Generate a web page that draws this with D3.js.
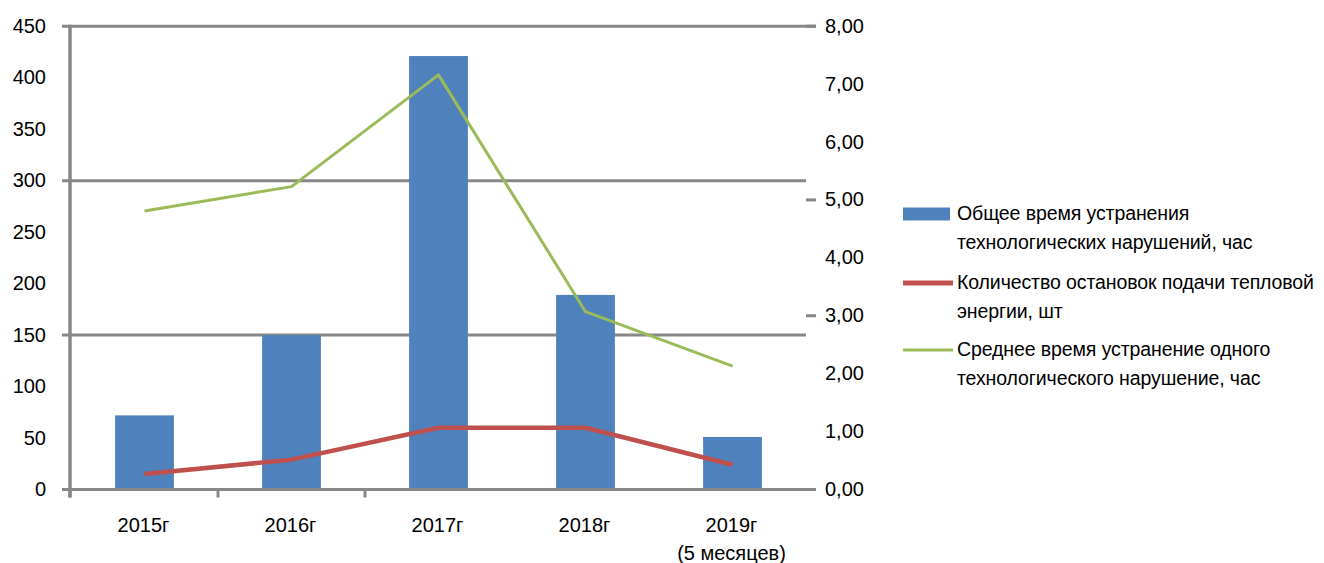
<!DOCTYPE html>
<html>
<head>
<meta charset="utf-8">
<script src="https://cdn.jsdelivr.net/npm/d3@7"></script>
<style>
  html, body { margin: 0; padding: 0; background: #fff; }
  svg { display: block; font-family: "Liberation Sans", Arial, sans-serif; }
</style>
</head>
<body>
<svg id="chart" width="1324" height="563"></svg>
<script>
// Years (the last one covers only five months)
const categories = ["2015г", "2016г", "2017г", "2018г", "2019г"];
const categoryLines = [["2015г"], ["2016г"], ["2017г"], ["2018г"], ["2019г", "(5 месяцев)"]];

// Total time to eliminate technological violations, hours (left axis, bars)
const totalHours = [72, 150, 421, 189, 51];
// Number of heat supply stoppages, pcs (left axis, red line)
const stopCount = [15, 29, 60, 60, 24];
// Average time to eliminate one violation, hours (right axis, green line)
const avgHours = [4.81, 5.23, 7.16, 3.07, 2.13];

// Axis ticks
const leftTickLabels = [0, 50, 100, 150, 200, 250, 300, 350, 400, 450];
const leftGridValues = [0, 150, 300, 450];
const rightTickLabels = [0, 1, 2, 3, 4, 5, 6, 7, 8];
const rightTickMarks = [0, 3, 5, 8];
const xTickMarkIndex = [0, 1, 2];

const seriesNames = [
  ["Общее время устранения", "технологических нарушений, час"],
  ["Количество остановок подачи тепловой", "энергии, шт"],
  ["Среднее время устранение одного", "технологического нарушение, час"]
];

const colors = { bar: "#4F81BD", red: "#C0504D", green: "#9BBB59", grid: "#878787" };

const svg = d3.select("#chart");
const plot = { left: 71, right: 806, top: 26.2, bottom: 489.5 };

const x = d3.scaleBand()
  .domain(categories)
  .range([plot.left, plot.right])
  .paddingInner(0.6)
  .paddingOuter(0.3);
const step = x.step();
const cx = c => x(c) + x.bandwidth() / 2;

const yL = d3.scaleLinear().domain([0, 450]).range([plot.bottom, plot.top]);
const yR = d3.scaleLinear().domain([0, 8]).range([plot.bottom, plot.top]);

// Horizontal grid lines with their left tick stubs
svg.append("g")
  .selectAll("line")
  .data(leftGridValues)
  .join("line")
  .attr("x1", plot.left - 9)
  .attr("x2", d => d === 450 ? plot.right + 10 : plot.right)
  .attr("y1", d => yL(d))
  .attr("y2", d => yL(d))
  .attr("stroke", colors.grid)
  .attr("stroke-width", 3);

// Right axis tick marks
svg.append("g")
  .selectAll("line")
  .data(rightTickMarks)
  .join("line")
  .attr("x1", plot.right)
  .attr("x2", plot.right + 10)
  .attr("y1", d => yR(d))
  .attr("y2", d => yR(d))
  .attr("stroke", colors.grid)
  .attr("stroke-width", 3);

// Bars
svg.append("g")
  .selectAll("rect")
  .data(totalHours)
  .join("rect")
  .attr("x", (d, i) => x(categories[i]))
  .attr("width", x.bandwidth())
  .attr("y", d => yL(d))
  .attr("height", d => yL(0) - yL(d))
  .attr("fill", colors.bar);

// Category axis line and tick marks
svg.append("line")
  .attr("x1", plot.left - 9).attr("x2", plot.right + 10)
  .attr("y1", plot.bottom).attr("y2", plot.bottom)
  .attr("stroke", colors.grid).attr("stroke-width", 3);
svg.append("g")
  .selectAll("line")
  .data(xTickMarkIndex)
  .join("line")
  .attr("x1", i => plot.left + i * step + (i === 0 ? -1 : 0))
  .attr("x2", i => plot.left + i * step + (i === 0 ? -1 : 0))
  .attr("y1", plot.bottom)
  .attr("y2", plot.bottom + 8)
  .attr("stroke", colors.grid)
  .attr("stroke-width", 3);

// Value axis line
svg.append("line")
  .attr("x1", plot.left - 1).attr("x2", plot.left - 1)
  .attr("y1", plot.top - 1.5).attr("y2", plot.bottom + 8)
  .attr("stroke", colors.grid).attr("stroke-width", 3.5);

// Left axis labels
const leftAxis = d3.axisLeft(yL).tickValues(leftTickLabels).tickSize(0).tickPadding(0)
  .tickFormat(d3.format("d"));
const gl = svg.append("g").attr("transform", `translate(46,0)`).call(leftAxis);
gl.select(".domain").remove();
gl.selectAll("text").attr("font-size", 20).attr("fill", "#000")
  .attr("font-family", "Liberation Sans, Arial, sans-serif").attr("dy", "0.3em");

// Right axis labels with decimal comma
const commaFmt = d => d3.format(".2f")(d).replace(".", ",");
const rightAxis = d3.axisRight(yR).tickValues(rightTickLabels).tickSize(0).tickPadding(0)
  .tickFormat(commaFmt);
const gr = svg.append("g").attr("transform", `translate(825,0)`).call(rightAxis);
gr.select(".domain").remove();
gr.selectAll("text").attr("font-size", 20).attr("fill", "#000")
  .attr("font-family", "Liberation Sans, Arial, sans-serif").attr("dy", "0.3em");

// Category labels
svg.append("g")
  .selectAll("text")
  .data(categoryLines)
  .join("text")
  .attr("x", (d, i) => cx(categories[i]) - 1)
  .attr("y", 532)
  .attr("text-anchor", "middle")
  .attr("font-size", 20)
  .attr("fill", "#000")
  .selectAll("tspan")
  .data(d => d)
  .join("tspan")
  .attr("x", function () { return this.parentNode.getAttribute("x"); })
  .attr("dy", (d, j) => j === 0 ? 0 : 28)
  .text(d => d);

// Lines
const redLine = d3.line().x((d, i) => cx(categories[i])).y(d => yL(d));
const greenLine = d3.line().x((d, i) => cx(categories[i])).y(d => yR(d));

svg.append("path")
  .datum(stopCount)
  .attr("d", redLine)
  .attr("fill", "none")
  .attr("stroke", colors.red)
  .attr("stroke-width", 4.5)
  .attr("stroke-linejoin", "round");

svg.append("path")
  .datum(avgHours)
  .attr("d", greenLine)
  .attr("fill", "none")
  .attr("stroke", colors.green)
  .attr("stroke-width", 3)
  .attr("stroke-linejoin", "round");

// Legend
const legend = svg.append("g");
const legendRows = [
  { y: 214, kind: "rect", color: colors.bar },
  { y: 283, kind: "line", color: colors.red, width: 5 },
  { y: 350, kind: "line", color: colors.green, width: 3 }
];
legendRows.forEach((r, i) => {
  if (r.kind === "rect") {
    legend.append("rect").attr("x", 903).attr("y", r.y - 6.5).attr("width", 47).attr("height", 13)
      .attr("fill", r.color);
  } else {
    legend.append("line").attr("x1", 903).attr("x2", 953).attr("y1", r.y).attr("y2", r.y)
      .attr("stroke", r.color).attr("stroke-width", r.width);
  }
  legend.append("text")
    .attr("x", 957)
    .attr("y", r.y + 6)
    .attr("font-size", 19.5)
    .attr("letter-spacing", -0.1)
    .attr("fill", "#000")
    .selectAll("tspan")
    .data(seriesNames[i])
    .join("tspan")
    .attr("x", 957)
    .attr("dy", (d, j) => j === 0 ? 0 : 29)
    .text(d => d);
});
</script>
</body>
</html>
